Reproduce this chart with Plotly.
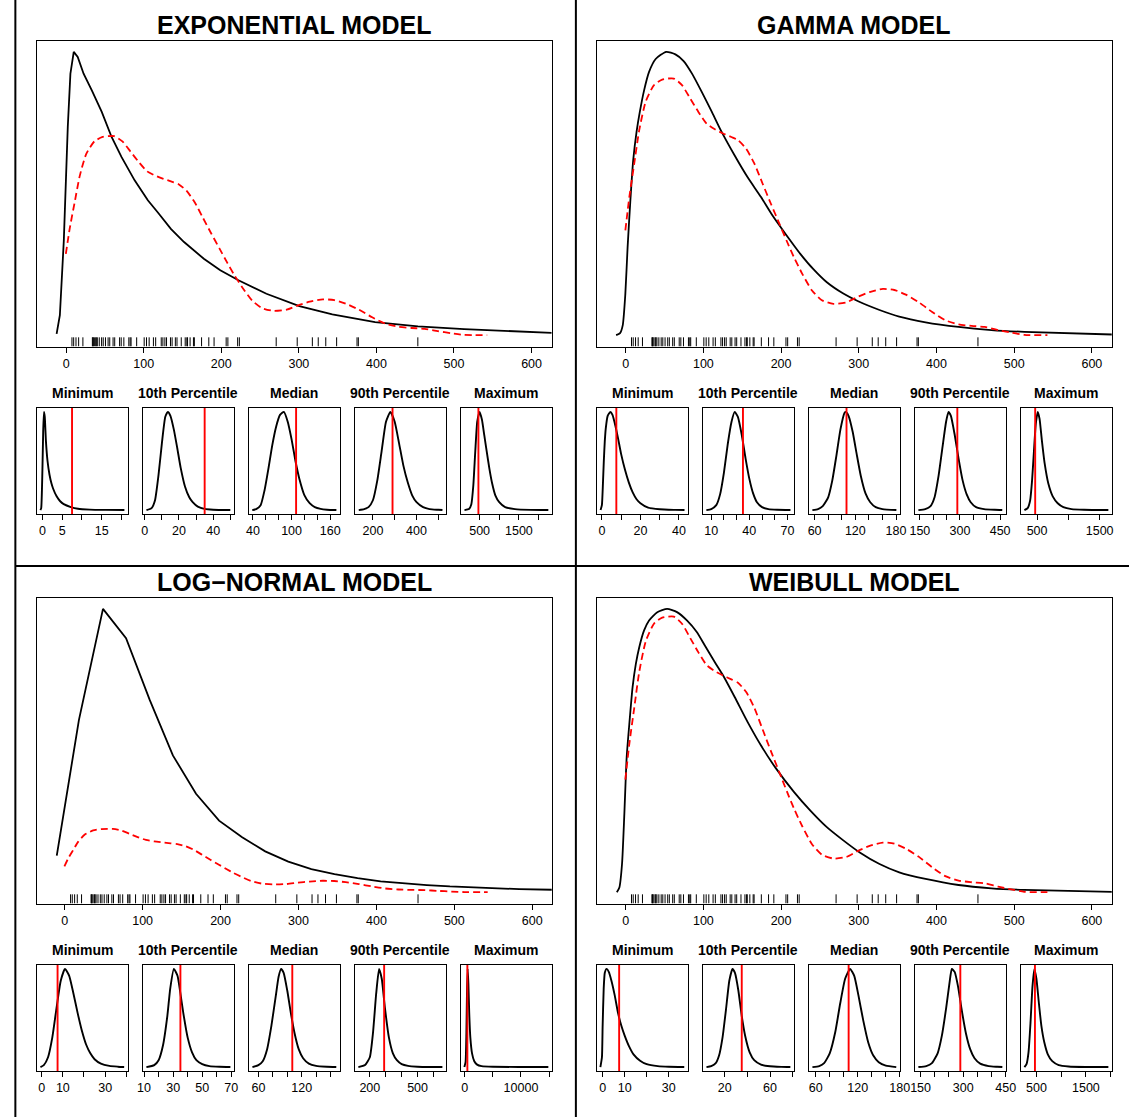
import plotly.graph_objects as go

W, H = 1139, 1117
FONT = "Liberation Sans, Arial, Helvetica, sans-serif"

# ---------------- data ----------------
model_titles = ["EXPONENTIAL MODEL", "GAMMA MODEL", "LOG\u2212NORMAL MODEL", "WEIBULL MODEL"]
stat_titles = ["Minimum", "10th Percentile", "Median", "90th Percentile", "Maximum"]

# observed data (rug)
rug_values = [7.5, 9.7, 12.7, 16.1, 21.6, 33.8, 34.5, 35.1, 36.4, 38.1, 38.9, 40.2, 42.7,
              45.7, 47.8, 50.7, 54.1, 56.2, 60.5, 62.6, 68.9, 71.0, 74.4, 80.8, 82.5, 83.7,
              90.9, 100.6, 103.6, 107.0, 112.5, 115.4, 122.6, 124.7, 127.3, 129.4, 134.5,
              136.6, 140.8, 142.9, 148.4, 153.5, 155.6, 156.5, 159.8, 164.1, 165.3, 174.6,
              183.9, 190.7, 206.3, 208.5, 221.1, 223.3, 270.8, 297.9, 317.4, 325.0, 334.7,
              348.7, 375.0, 376.7, 453.4]

# observed statistics (red lines): min, p10, median, p90, max
obs_stats = [7.5, 35, 107, 290, 470]

# kernel density of the data (density x 1e-3)
kde_x = [-0.4, 4.7, 11.0, 17.4, 25.8, 36.4, 47.0, 61.9, 72.5, 83.1, 93.6, 104.2, 114.8, 125.4,
         136.0, 144.5, 155.1, 165.7, 176.3, 186.9, 197.9, 208.0, 216.5, 227.1, 239.8, 252.5,
         267.4, 284.3, 299.2, 314.0, 331.0, 345.8, 360.6, 377.5, 394.5, 411.4, 428.4, 445.3,
         462.3, 479.2, 496.2, 513.0, 542.8]
kde_y = [2.04, 2.69, 3.34, 3.99, 4.55, 4.87, 4.98, 5.00, 4.87, 4.61, 4.35, 4.12, 4.01, 3.93,
         3.86, 3.80, 3.63, 3.34, 2.95, 2.56, 2.17, 1.81, 1.52, 1.20, 0.87, 0.68, 0.61, 0.64,
         0.75, 0.84, 0.90, 0.88, 0.79, 0.64, 0.45, 0.29, 0.21, 0.18, 0.16, 0.10, 0.05, 0.007, 0.0]

# fitted densities (density x 1e-3)
exp_x = [-12.3, -8.1, -3.0, 2.1, 5.5, 9.8, 14.9, 22.5, 33.1, 45.9, 58.6, 71.3, 88.3, 105.3,
         118.0, 135.0, 152.0, 177.5, 198.7, 222.1, 258.2, 300.6, 343.1, 398.3, 453.5, 513.0, 626.0]
exp_y = [0.034, 0.50, 2.38, 5.23, 6.57, 7.12, 6.99, 6.57, 6.15, 5.61, 4.98, 4.48, 3.89, 3.39,
         3.09, 2.67, 2.34, 1.92, 1.63, 1.38, 1.04, 0.73, 0.52, 0.33, 0.22, 0.15, 0.06]

gamma_x = [-12.3, -7.2, -3.8, -0.4, 2.5, 5.9, 9.7, 14.0, 18.2, 23.7, 30.1, 38.6, 52.1, 64.0,
           74.6, 85.2, 97.9, 110.6, 122.5, 140.3, 157.2, 174.2, 189.0, 203.0, 225.0, 241.9,
           258.9, 280.1, 299.2, 326.7, 352.1, 386.0, 428.4, 470.8, 513.1, 626.0]
gamma_y = [0.0, 0.04, 0.19, 0.81, 1.72, 2.59, 3.41, 3.96, 4.35, 4.77, 5.13, 5.38, 5.52, 5.47,
           5.34, 5.10, 4.74, 4.36, 3.99, 3.50, 3.07, 2.69, 2.33, 2.03, 1.58, 1.28, 1.03, 0.81,
           0.66, 0.49, 0.36, 0.25, 0.16, 0.10, 0.065, 0.013]

lnorm_x = [-10.2, 18.2, 49.1, 78.7, 109.2, 138.8, 168.5, 198.1, 227.7, 257.3, 286.9, 316.5,
           346.2, 375.8, 405.4, 435.0, 464.7, 494.3, 523.9, 553.5, 583.2, 626.0]
lnorm_y = [2.88, 13.58, 22.37, 20.05, 15.16, 10.80, 7.77, 5.65, 4.33, 3.22, 2.41, 1.82, 1.43,
           1.11, 0.85, 0.69, 0.56, 0.45, 0.37, 0.29, 0.24, 0.19]

weib_x = [-11.4, -8.1, -4.7, -1.7, 1.3, 4.7, 8.9, 13.1, 17.4, 23.7, 30.1, 40.7, 53.4, 66.1,
          78.8, 91.5, 102.1, 114.8, 125.4, 140.3, 157.2, 174.2, 193.2, 216.5, 237.7, 258.9,
          280.1, 301.3, 326.7, 352.1, 386.0, 428.4, 470.8, 513.1, 626.0]
weib_y = [0.0, 0.085, 0.51, 1.42, 2.45, 3.05, 3.72, 4.14, 4.44, 4.75, 4.93, 5.08, 5.14, 5.08,
          4.93, 4.72, 4.47, 4.17, 3.93, 3.54, 3.08, 2.66, 2.25, 1.82, 1.48, 1.18, 0.94, 0.72,
          0.51, 0.36, 0.24, 0.13, 0.07, 0.04, 0.006]

main_ticks = [0, 100, 200, 300, 400, 500, 600]

# simulated statistic densities (relative height) - exponential
exp_min_x = [-0.5, -0.3, 0.0, 0.2, 0.4, 0.6, 0.9, 1.3, 1.8, 2.3, 2.7, 3.6, 4.5, 5.4, 7.2, 9, 12, 16, 20.75]
exp_min_y = [0, 0.02, 0.4, 0.8, 1.0, 0.95, 0.7, 0.5, 0.36, 0.27, 0.22, 0.14, 0.09, 0.06, 0.03, 0.013, 0.005, 0.002, 0.0]
exp_p10_x = [1, 4, 6, 8, 10, 12, 13.5, 15, 17, 19, 21, 23.5, 26, 28, 31, 35, 40, 50]
exp_p10_y = [0, 0.02, 0.1, 0.35, 0.68, 0.95, 1.0, 0.96, 0.82, 0.63, 0.43, 0.24, 0.13, 0.08, 0.035, 0.012, 0.004, 0]
exp_med_x = [39, 45, 52, 58, 64, 70, 76, 82, 88, 94, 100, 106, 112, 120, 128, 136, 145, 155, 169.5]
exp_med_y = [0, 0.01, 0.05, 0.2, 0.42, 0.66, 0.85, 0.97, 1.0, 0.9, 0.72, 0.5, 0.32, 0.15, 0.07, 0.03, 0.012, 0.004, 0]
exp_p90_x = [135, 160, 180, 200, 220, 240, 260, 280, 300, 320, 340, 360, 380, 400, 430, 460, 500, 519]
exp_p90_y = [0, 0.01, 0.03, 0.1, 0.3, 0.6, 0.9, 1.0, 0.9, 0.68, 0.45, 0.28, 0.15, 0.08, 0.03, 0.01, 0.003, 0]
exp_max_x = [115, 230, 290, 340, 390, 440, 500, 560, 620, 680, 750, 820, 900, 1000, 1150, 1400, 1800, 2250]
exp_max_y = [0, 0.01, 0.06, 0.25, 0.6, 0.9, 1.0, 0.92, 0.76, 0.6, 0.42, 0.27, 0.15, 0.08, 0.03, 0.01, 0.002, 0]

# gamma
gam_min_x = [-0.7, 0, 0.5, 1, 1.5, 2, 3, 4.4, 5.5, 7, 8.5, 10, 12, 14, 16, 18, 20, 24, 30, 38, 42.9]
gam_min_y = [0, 0.05, 0.25, 0.5, 0.7, 0.83, 0.96, 1.0, 0.97, 0.86, 0.72, 0.57, 0.41, 0.28, 0.18, 0.11, 0.07, 0.025, 0.008, 0.002, 0]
gam_p10_x = [6.2, 10, 14, 17, 20, 23, 26, 28.5, 31, 34, 37, 40, 43, 46, 50, 55, 62, 72.4]
gam_p10_y = [0, 0.01, 0.05, 0.16, 0.38, 0.67, 0.9, 1.0, 0.95, 0.77, 0.53, 0.32, 0.17, 0.08, 0.03, 0.01, 0.003, 0]
gam_med_x = [56.7, 65, 72, 80, 86, 92, 98, 104, 106, 110, 116, 122, 128, 135, 142, 150, 160, 180.5]
gam_med_y = [0, 0.01, 0.04, 0.13, 0.3, 0.55, 0.82, 0.99, 1.0, 0.96, 0.8, 0.57, 0.35, 0.17, 0.08, 0.03, 0.01, 0]
gam_p90_x = [144.5, 170, 190, 205, 220, 235, 248, 257, 266, 280, 295, 310, 325, 340, 360, 390, 430, 458]
gam_p90_y = [0, 0.01, 0.04, 0.13, 0.35, 0.65, 0.9, 1.0, 0.96, 0.77, 0.52, 0.3, 0.16, 0.08, 0.03, 0.01, 0.003, 0]
gam_max_x = [298, 350, 390, 420, 450, 480, 511, 540, 575, 620, 680, 750, 830, 920, 1050, 1250, 1639]
gam_max_y = [0, 0.02, 0.1, 0.3, 0.6, 0.88, 1.0, 0.93, 0.72, 0.48, 0.27, 0.14, 0.07, 0.03, 0.01, 0.003, 0]

# log-normal
lno_min_x = [-0.6, 1, 3, 5, 7, 9, 11, 13, 15, 17, 19, 21, 23, 25, 28, 32, 36, 39]
lno_min_y = [0, 0.02, 0.1, 0.3, 0.6, 0.88, 1.0, 0.93, 0.75, 0.55, 0.37, 0.23, 0.14, 0.08, 0.035, 0.012, 0.004, 0]
lno_p10_x = [11.6, 17, 20, 23, 26, 28, 30.5, 33, 35, 37, 40, 43, 46, 50, 55, 62, 69.4]
lno_p10_y = [0, 0.02, 0.07, 0.22, 0.52, 0.8, 1.0, 0.93, 0.75, 0.55, 0.3, 0.15, 0.07, 0.03, 0.01, 0.003, 0]
lno_med_x = [51.7, 60, 66, 72, 78, 84, 88, 91.5, 95, 100, 105, 110, 116, 122, 130, 140, 155, 168]
lno_med_y = [0, 0.02, 0.06, 0.18, 0.42, 0.72, 0.92, 1.0, 0.96, 0.78, 0.55, 0.35, 0.18, 0.09, 0.035, 0.012, 0.003, 0]
lno_p90_x = [128, 170, 200, 220, 240, 258, 275, 295, 320, 345, 370, 400, 440, 500, 580, 656]
lno_p90_y = [0, 0.02, 0.1, 0.35, 0.75, 1.0, 0.9, 0.6, 0.3, 0.14, 0.07, 0.03, 0.012, 0.004, 0.001, 0]
lno_max_x = [-62, 150, 300, 400, 526, 650, 800, 1000, 1300, 1700, 2200, 3000, 5000, 10000, 14860]
lno_max_y = [0, 0.05, 0.35, 0.75, 1.0, 0.85, 0.55, 0.3, 0.14, 0.06, 0.025, 0.01, 0.003, 0.001, 0]

# weibull
wei_min_x = [-1.0, -0.3, 0, 0.5, 1, 1.8, 2.8, 4, 5.5, 7, 8.5, 10, 12, 14, 17, 20, 25, 30, 37]
wei_min_y = [0, 0.1, 0.4, 0.8, 0.96, 1.0, 0.97, 0.88, 0.73, 0.55, 0.42, 0.32, 0.21, 0.13, 0.065, 0.03, 0.01, 0.003, 0]
wei_p10_x = [3.8, 8, 12, 15, 18, 21, 24, 26.8, 29, 32, 35, 38, 42, 46, 52, 60, 70, 78]
wei_p10_y = [0, 0.01, 0.04, 0.12, 0.3, 0.58, 0.88, 1.0, 0.96, 0.78, 0.52, 0.32, 0.15, 0.07, 0.025, 0.008, 0.002, 0]
wei_med_x = [55.3, 65, 72, 80, 88, 95, 102, 109, 115, 121, 128, 135, 142, 150, 160, 175]
wei_med_y = [0, 0.01, 0.04, 0.14, 0.36, 0.65, 0.9, 1.0, 0.93, 0.73, 0.47, 0.25, 0.12, 0.05, 0.015, 0]
wei_p90_x = [142.3, 170, 190, 210, 225, 240, 252, 260, 270, 282, 295, 310, 325, 340, 360, 390, 420, 438]
wei_p90_y = [0, 0.01, 0.04, 0.14, 0.32, 0.6, 0.86, 1.0, 0.97, 0.82, 0.58, 0.34, 0.18, 0.09, 0.035, 0.01, 0.003, 0]
wei_max_x = [257, 300, 340, 380, 420, 459, 500, 550, 600, 660, 730, 820, 950, 1150, 1500, 1954]
wei_max_y = [0, 0.03, 0.15, 0.45, 0.82, 1.0, 0.9, 0.65, 0.42, 0.25, 0.13, 0.06, 0.02, 0.006, 0.001, 0]

# tick values / labels of the small panels
exp_ticks = [[0, 5, 10, 15, 20], [0, 10, 20, 30, 40, 50], [40, 60, 80, 100, 120, 140, 160],
             [200, 300, 400, 500], [500, 1000, 1500, 2000]]
exp_labels = [["0", "5", "", "15", ""], ["0", "", "20", "", "40", ""],
              ["40", "", "", "100", "", "", "160"], ["200", "", "400", ""], ["500", "", "1500", ""]]
gam_ticks = [[0, 10, 20, 30, 40], [10, 20, 30, 40, 50, 60, 70], [60, 80, 100, 120, 140, 160, 180],
             [150, 200, 250, 300, 350, 400, 450], [500, 1000, 1500]]
gam_labels = [["0", "", "20", "", "40"], ["10", "", "", "40", "", "", "70"],
              ["60", "", "", "120", "", "", "180"], ["150", "", "", "300", "", "", "450"],
              ["500", "", "1500"]]
lno_ticks = [[0, 10, 20, 30, 40], [10, 20, 30, 40, 50, 60, 70], [60, 80, 100, 120, 140, 160],
             [200, 300, 400, 500, 600], [0, 5000, 10000, 15000]]
lno_labels = [["0", "10", "", "30", ""], ["10", "", "30", "", "50", "", "70"],
              ["60", "", "", "120", "", ""], ["200", "", "", "500", ""], ["0", "", "10000", ""]]
wei_ticks = [[0, 10, 20, 30], [20, 40, 60, 80], [60, 80, 100, 120, 140, 160, 180],
             [150, 200, 250, 300, 350, 400, 450], [500, 1000, 1500, 2000]]
wei_labels = [["0", "10", "", "30"], ["20", "", "60", ""], ["60", "", "", "120", "", "", "180"],
              ["150", "", "", "300", "", "", "450"], ["500", "", "1500", ""]]

# ---------------- layout constants ----------------
main_xranges = [[-37.5, 626], [-36.8, 625.6], [-35.5, 625], [-36.8, 625.6]]
small_xranges = [
    [[-1.35, 21.6], [-1, 52], [34, 174.7], [118, 534], [27, 2336]],
    [[-2.5, 44.6], [3.6, 75], [51.8, 185.5], [132, 471], [244, 1693]],
    [[-2.2, 40.7], [9.3, 71.7], [47, 172.8], [107, 677], [-658, 15460]],
    [[-2.5, 38.6], [0.8, 81], [50.5, 180], [130.5, 450], [189, 2022]],
]
QX = [0, 568, 0, 568]
QY = [0, 0, 557, 557]

black_curves = [(exp_x, exp_y), (gamma_x, gamma_y), (lnorm_x, lnorm_y), (weib_x, weib_y)]
small_curves = [
    [(exp_min_x, exp_min_y), (exp_p10_x, exp_p10_y), (exp_med_x, exp_med_y), (exp_p90_x, exp_p90_y), (exp_max_x, exp_max_y)],
    [(gam_min_x, gam_min_y), (gam_p10_x, gam_p10_y), (gam_med_x, gam_med_y), (gam_p90_x, gam_p90_y), (gam_max_x, gam_max_y)],
    [(lno_min_x, lno_min_y), (lno_p10_x, lno_p10_y), (lno_med_x, lno_med_y), (lno_p90_x, lno_p90_y), (lno_max_x, lno_max_y)],
    [(wei_min_x, wei_min_y), (wei_p10_x, wei_p10_y), (wei_med_x, wei_med_y), (wei_p90_x, wei_p90_y), (wei_max_x, wei_max_y)],
]
small_ticks = [(exp_ticks, exp_labels), (gam_ticks, gam_labels), (lno_ticks, lno_labels), (wei_ticks, wei_labels)]
smooth_main = [False, True, False, True]

fig = go.Figure()
layout = {}
annotations = []
counter = [0]


def new_axes(x0, y0, x1, y1, xrange, yrange, tickvals, ticktext):
    counter[0] += 1
    n = counter[0]
    sfx = "" if n == 1 else str(n)
    layout["xaxis" + sfx] = dict(
        domain=[x0 / W, x1 / W], range=xrange, anchor="y" + sfx,
        showline=True, mirror=True, linecolor="black", linewidth=1,
        ticks="outside", ticklen=5, tickwidth=1, tickcolor="black",
        tickmode="array", tickvals=tickvals, ticktext=ticktext,
        showgrid=False, zeroline=False, fixedrange=True,
        tickfont=dict(family=FONT, size=12.5, color="black"))
    layout["yaxis" + sfx] = dict(
        domain=[1 - y1 / H, 1 - y0 / H], range=yrange, anchor="x" + sfx,
        showline=True, mirror=True, linecolor="black", linewidth=1,
        showticklabels=False, ticks="", showgrid=False, zeroline=False, fixedrange=True)
    return "x" + sfx, "y" + sfx


def pad_range(values):
    lo, hi = min(values), max(values)
    p = 0.04 * (hi - lo)
    return [lo - p, hi + p]


for m in range(4):
    ox, oy = QX[m], QY[m]
    bx, by = black_curves[m]
    yr = pad_range(list(by) + list(kde_y))
    xa, ya = new_axes(ox + 31.5, oy + 40.5, ox + 553.5, oy + 346.5, main_xranges[m], yr,
                      main_ticks, [str(t) for t in main_ticks])
    # fitted density
    fig.add_trace(go.Scatter(x=bx, y=by, mode="lines", xaxis=xa, yaxis=ya,
                             line=dict(color="black", width=1.8,
                                       shape="spline" if smooth_main[m] else "linear",
                                       smoothing=0.6),
                             hoverinfo="skip", showlegend=False))
    # kernel density of data
    fig.add_trace(go.Scatter(x=kde_x, y=kde_y, mode="lines", xaxis=xa, yaxis=ya,
                             line=dict(color="red", width=1.8, dash="7px,4px",
                                       shape="spline", smoothing=0.6),
                             hoverinfo="skip", showlegend=False))
    # rug
    rx, ry = [], []
    tick_h = 0.03 * (yr[1] - yr[0])
    for v in rug_values:
        rx += [v, v, None]
        ry += [yr[0], yr[0] + tick_h, None]
    fig.add_trace(go.Scatter(x=rx, y=ry, mode="lines", xaxis=xa, yaxis=ya,
                             line=dict(color="black", width=1),
                             hoverinfo="skip", showlegend=False))
    annotations.append(dict(text="<b>" + model_titles[m] + "</b>", x=(ox + 292.5) / W,
                            y=1 - (oy + 25) / H, xref="paper", yref="paper",
                            xanchor="center", yanchor="middle", showarrow=False,
                            font=dict(family=FONT, size=25, color="black")))
    tv_all, tt_all = small_ticks[m]
    for s in range(5):
        sx0 = ox + 31.5 + s * 107.5
        sx1 = sx0 + 92
        cx, cy = small_curves[m][s]
        syr = pad_range(cy)
        xa, ya = new_axes(sx0, oy + 408, sx1, oy + 514, small_xranges[m][s], syr,
                          tv_all[s], tt_all[s])
        fig.add_trace(go.Scatter(x=cx, y=cy, mode="lines", xaxis=xa, yaxis=ya,
                                 line=dict(color="black", width=1.9, shape="spline", smoothing=0.5),
                                 hoverinfo="skip", showlegend=False))
        fig.add_trace(go.Scatter(x=[obs_stats[s], obs_stats[s]], y=syr, mode="lines",
                                 xaxis=xa, yaxis=ya, line=dict(color="red", width=1.9),
                                 hoverinfo="skip", showlegend=False))
        annotations.append(dict(text="<b>" + stat_titles[s] + "</b>", x=(sx0 + sx1) / 2 / W,
                                y=1 - (oy + 393) / H, xref="paper", yref="paper",
                                xanchor="center", yanchor="middle", showarrow=False,
                                font=dict(family=FONT, size=14, color="black")))

shapes = [
    dict(type="line", xref="paper", yref="paper", x0=578 / W, x1=578 / W, y0=0, y1=1,
         line=dict(color="black", width=2)),
    dict(type="line", xref="paper", yref="paper", x0=9.5 / W, x1=9.5 / W, y0=0, y1=1,
         line=dict(color="black", width=2)),
    dict(type="line", xref="paper", yref="paper", x0=9.5 / W, x1=1, y0=1 - 566 / H, y1=1 - 566 / H,
         line=dict(color="black", width=2)),
]

fig.update_layout(**layout)
fig.update_layout(width=W, height=H, margin=dict(l=0, r=0, t=0, b=0),
                  paper_bgcolor="white", plot_bgcolor="white",
                  annotations=annotations, shapes=shapes, showlegend=False)

fig.write_html("out.html", config={"displayModeBar": False},
               post_script="document.body.style.margin='0';document.body.style.overflow='hidden';")
